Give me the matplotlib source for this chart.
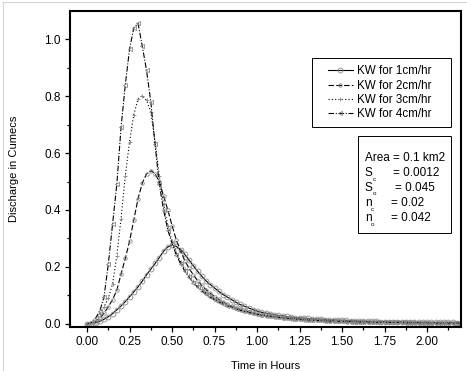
import numpy as np
import matplotlib
matplotlib.use("Agg")
import matplotlib.pyplot as plt
from matplotlib.patches import Rectangle
from matplotlib.lines import Line2D

plt.rcParams["font.family"] = ["Liberation Sans", "DejaVu Sans"]

# time grid (hours), 0.025 h steps
time_h = np.round(np.arange(0, 2.2001, 0.025), 3)

q_1cm = [
    0.000, 0.001, 0.004, 0.009, 0.016, 0.025, 0.036, 0.049, 0.063, 0.078,
    0.095, 0.112, 0.130, 0.150, 0.172, 0.192, 0.212, 0.233, 0.255, 0.270,
    0.276, 0.272, 0.260, 0.244, 0.224, 0.204, 0.185, 0.167, 0.151, 0.138,
    0.126, 0.114, 0.103, 0.094, 0.085, 0.076, 0.068, 0.062, 0.056, 0.050,
    0.045, 0.041, 0.038, 0.035, 0.032, 0.030, 0.028, 0.026, 0.024, 0.022,
    0.021, 0.020, 0.019, 0.018, 0.017, 0.016, 0.015, 0.014, 0.014, 0.013,
    0.012, 0.012, 0.011, 0.011, 0.010, 0.010, 0.009, 0.009, 0.009, 0.008,
    0.008, 0.008, 0.007, 0.007, 0.007, 0.007, 0.006, 0.006, 0.006, 0.006,
    0.006, 0.005, 0.005, 0.005, 0.005, 0.005, 0.005, 0.004, 0.004,
]
q_2cm = [
    0.000, 0.002, 0.008, 0.020, 0.037, 0.060, 0.085, 0.118, 0.175, 0.230,
    0.290, 0.365, 0.440, 0.495, 0.527, 0.538, 0.528, 0.498, 0.450, 0.400,
    0.345, 0.295, 0.255, 0.222, 0.195, 0.172, 0.152, 0.135, 0.120, 0.107,
    0.096, 0.086, 0.077, 0.069, 0.062, 0.056, 0.051, 0.046, 0.042, 0.038,
    0.035, 0.032, 0.030, 0.028, 0.026, 0.024, 0.022, 0.021, 0.019, 0.018,
    0.017, 0.016, 0.015, 0.014, 0.013, 0.013, 0.012, 0.011, 0.011, 0.010,
    0.010, 0.009, 0.009, 0.008, 0.008, 0.008, 0.007, 0.007, 0.007, 0.006,
    0.006, 0.006, 0.006, 0.005, 0.005, 0.005, 0.005, 0.005, 0.004, 0.004,
    0.004, 0.004, 0.004, 0.004, 0.003, 0.003, 0.003, 0.003, 0.003,
]
q_3cm = [
    0.000, 0.004, 0.015, 0.035, 0.060, 0.090, 0.140, 0.240, 0.370, 0.520,
    0.640, 0.735, 0.790, 0.802, 0.785, 0.745, 0.640, 0.520, 0.420, 0.345,
    0.290, 0.250, 0.218, 0.192, 0.170, 0.151, 0.135, 0.121, 0.109, 0.098,
    0.089, 0.080, 0.073, 0.066, 0.060, 0.055, 0.050, 0.046, 0.042, 0.038,
    0.035, 0.032, 0.029, 0.027, 0.025, 0.023, 0.021, 0.020, 0.018, 0.017,
    0.016, 0.015, 0.014, 0.013, 0.012, 0.012, 0.011, 0.010, 0.010, 0.009,
    0.009, 0.008, 0.008, 0.008, 0.007, 0.007, 0.007, 0.006, 0.006, 0.006,
    0.006, 0.005, 0.005, 0.005, 0.005, 0.004, 0.004, 0.004, 0.004, 0.004,
    0.004, 0.003, 0.003, 0.003, 0.003, 0.003, 0.003, 0.003, 0.003,
]
q_4cm = [
    0.000, 0.005, 0.020, 0.045, 0.095, 0.210, 0.350, 0.490, 0.690, 0.840,
    0.965, 1.040, 1.055, 0.975, 0.890, 0.780, 0.630, 0.490, 0.400, 0.330,
    0.282, 0.243, 0.211, 0.185, 0.163, 0.145, 0.129, 0.116, 0.104, 0.094,
    0.085, 0.077, 0.070, 0.063, 0.058, 0.053, 0.048, 0.044, 0.040, 0.037,
    0.034, 0.031, 0.029, 0.027, 0.025, 0.023, 0.021, 0.020, 0.018, 0.017,
    0.016, 0.015, 0.014, 0.013, 0.012, 0.012, 0.011, 0.010, 0.010, 0.009,
    0.009, 0.008, 0.008, 0.008, 0.007, 0.007, 0.007, 0.006, 0.006, 0.006,
    0.006, 0.005, 0.005, 0.005, 0.005, 0.004, 0.004, 0.004, 0.004, 0.004,
    0.004, 0.003, 0.003, 0.003, 0.003, 0.003, 0.003, 0.003, 0.003,
]

labels = ["KW for 1cm/hr", "KW for 2cm/hr", "KW for 3cm/hr", "KW for 4cm/hr"]
area_text = "Area = 0.1 km2"
param_syms = [("S", "c"), ("S", "o"), ("n", "c"), ("n", "o")]
param_vals = ["= 0.0012", "= 0.045", "= 0.02", "= 0.042"]

fig = plt.figure(figsize=(4.67, 3.71), dpi=100)
ax = fig.add_axes([0.150, 0.1194, 0.8373, 0.8518])

# faint frame of the original figure
fig.add_artist(Line2D([0.006, 1.0], [0.994, 0.994], transform=fig.transFigure,
                      color="#d4d4d4", lw=0.8))
fig.add_artist(Line2D([0.006, 0.006], [0.0, 0.994], transform=fig.transFigure,
                      color="#d4d4d4", lw=0.8))

styles = [
    dict(ls="-", marker="o", ms=3.5),
    dict(ls=(0, (5, 2)), marker="o", ms=2.5),
    dict(ls=(0, (1, 2)), marker="+", ms=3),
    dict(ls=(0, (5, 1.5, 1, 1.5)), marker="<", ms=3),
]
series = [q_1cm, q_2cm, q_3cm, q_4cm]
for q, lab, st in zip(series, labels, styles):
    ax.plot(time_h, q, color="black", lw=0.8, ls=st["ls"], marker=st["marker"],
            ms=st["ms"], mfc="none", mec="#8a8a8a", mew=0.6, label=lab)

ax.set_xlim(-0.1, 2.2)
ax.set_ylim(-0.01, 1.1)
ax.set_xticks([0, 0.25, 0.5, 0.75, 1.0, 1.25, 1.5, 1.75, 2.0])
ax.set_xticks(np.arange(0.125, 2.2, 0.25), minor=True)
ax.set_yticks([0.0, 0.2, 0.4, 0.6, 0.8, 1.0])
ax.set_yticks([0.1, 0.3, 0.5, 0.7, 0.9], minor=True)
ax.xaxis.set_major_formatter(plt.FormatStrFormatter("%.2f"))
ax.yaxis.set_major_formatter(plt.FormatStrFormatter("%.1f"))
ax.tick_params(which="major", direction="out", length=3.8, width=0.9,
               labelsize=8.5, pad=3)
ax.tick_params(which="minor", direction="out", length=2.3, width=0.9)
for sp in ax.spines.values():
    sp.set_linewidth(1.5)

ax.set_xlabel("Time in Hours", fontsize=8, labelpad=9)
ax.set_ylabel("Discharge in Cumecs", fontsize=8, labelpad=18)

# legend frame drawn separately so the padding matches the original
ax.add_patch(Rectangle((0.618, 0.631), 0.356, 0.218, transform=ax.transAxes,
                       fill=False, edgecolor="black", lw=0.7))
ax.legend(loc="center left", bbox_to_anchor=(0.660, 0.740),
          borderaxespad=0, borderpad=0, fontsize=8.4, frameon=False,
          handlelength=2.1, handletextpad=0.35, labelspacing=0.2)

# parameter box
ax.add_patch(Rectangle((0.736, 0.296), 0.238, 0.308, transform=ax.transAxes,
                       fill=False, edgecolor="black", lw=0.7))
ax.text(0.754, 0.533, area_text, transform=ax.transAxes, fontsize=8.5,
        va="center", ha="left")
ys = [0.485, 0.440, 0.391, 0.343]
xs = [0.827, 0.831, 0.820, 0.820]
for (sym, sub), val, x, y in zip(param_syms, param_vals, xs, ys):
    ax.text(0.754, y, sym, transform=ax.transAxes, fontsize=8.5,
            va="center", ha="left")
    # tiny subscript, set low like in the original
    sub_x = 0.754 + (0.019 if sym == "S" else 0.016)
    ax.text(sub_x, y - 0.02, sub, transform=ax.transAxes, fontsize=4.5,
            va="center", ha="left")
    ax.text(x, y, val, transform=ax.transAxes, fontsize=8.5,
            va="center", ha="left")

fig.savefig("out.png", dpi=100)
